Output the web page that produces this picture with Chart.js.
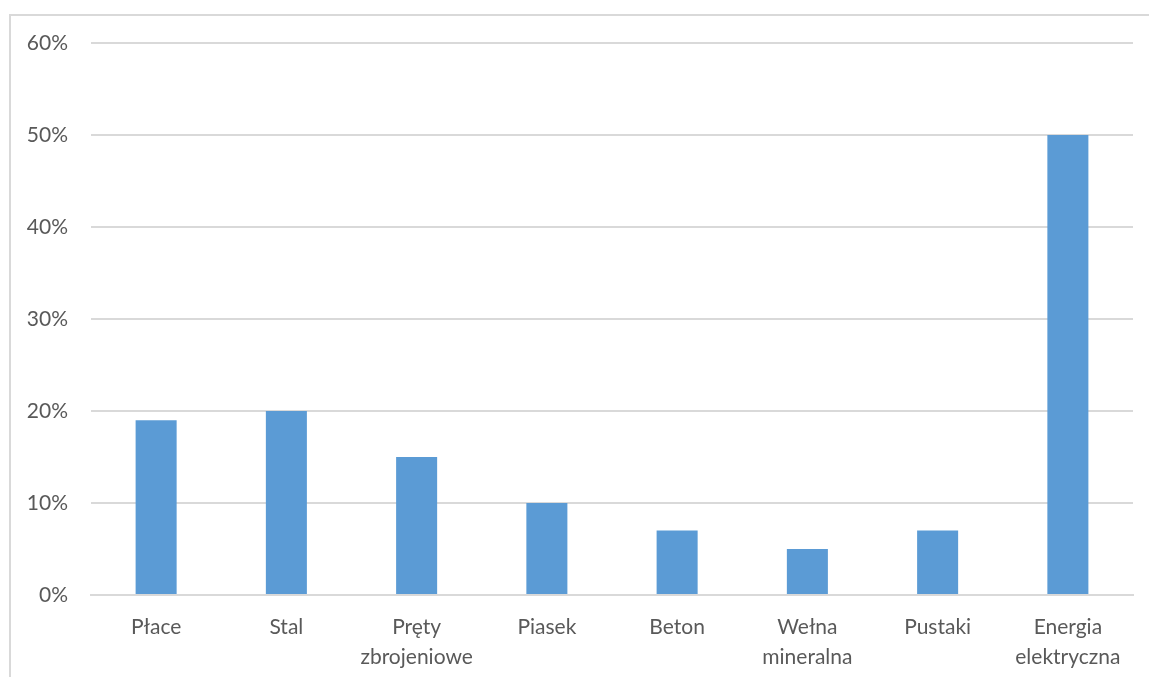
<!DOCTYPE html>
<html>
<head>
<meta charset="utf-8">
<script src="https://cdn.jsdelivr.net/npm/chart.js@4"></script>
<style>
  html, body { margin: 0; padding: 0; background: #fff; overflow: hidden; }
  #wrap { position: relative; width: 1149px; height: 677px; }
  #frame { position: absolute; left: 9px; top: 14px; width: 1200px; height: 700px; border: 2px solid #d9d9d9; box-sizing: border-box; }
  #costChart { position: absolute; left: 0; top: 0; }
</style>
</head>
<body>
<div id="wrap">
  <div id="frame"></div>
  <canvas id="costChart" width="1149" height="677"></canvas>
</div>
<script>
// Udział kosztów - wzrost cen
const categories = [
  'Płace', 'Stal', ['Pręty', 'zbrojeniowe'], 'Piasek', 'Beton',
  ['Wełna', 'mineralna'], 'Pustaki', ['Energia', 'elektryczna']
];
const values = [19, 20, 15, 10, 7, 5, 7, 50];
const yTicks = [0, 10, 20, 30, 40, 50, 60];

const textColor = '#595959';
const gridColor = '#d9d9d9';

const ctx = document.getElementById('costChart').getContext('2d');
const costChart = new Chart(ctx, {
  type: 'bar',
  data: {
    labels: categories,
    datasets: [{
      data: values,
      backgroundColor: '#5b9bd5',
      categoryPercentage: 1,
      barPercentage: 0.315
    }]
  },
  options: {
    responsive: false,
    animation: false,
    layout: { padding: { left: 0, right: 16, top: 43, bottom: 0 } },
    plugins: {
      legend: { display: false },
      tooltip: { enabled: false }
    },
    scales: {
      x: {
        grid: { display: false, drawTicks: false },
        border: { color: gridColor, width: 2 },
        ticks: {
          color: textColor,
          font: { family: 'Lato', size: 21, lineHeight: 1.4 },
          padding: 18,
          maxRotation: 0,
          autoSkip: false
        },
        afterFit: (scale) => { scale.height = 82; }
      },
      y: {
        min: 0,
        max: 60,
        afterBuildTicks: (scale) => { scale.ticks = yTicks.map(v => ({ value: v })); },
        grid: { color: gridColor, lineWidth: 2, drawTicks: false },
        border: { display: false },
        ticks: {
          color: textColor,
          font: { family: 'Lato', size: 21 },
          padding: 23,
          callback: (v) => v + '%'
        },
        afterFit: (scale) => { scale.width = 91; }
      }
    }
  }
});
</script>
</body>
</html>
